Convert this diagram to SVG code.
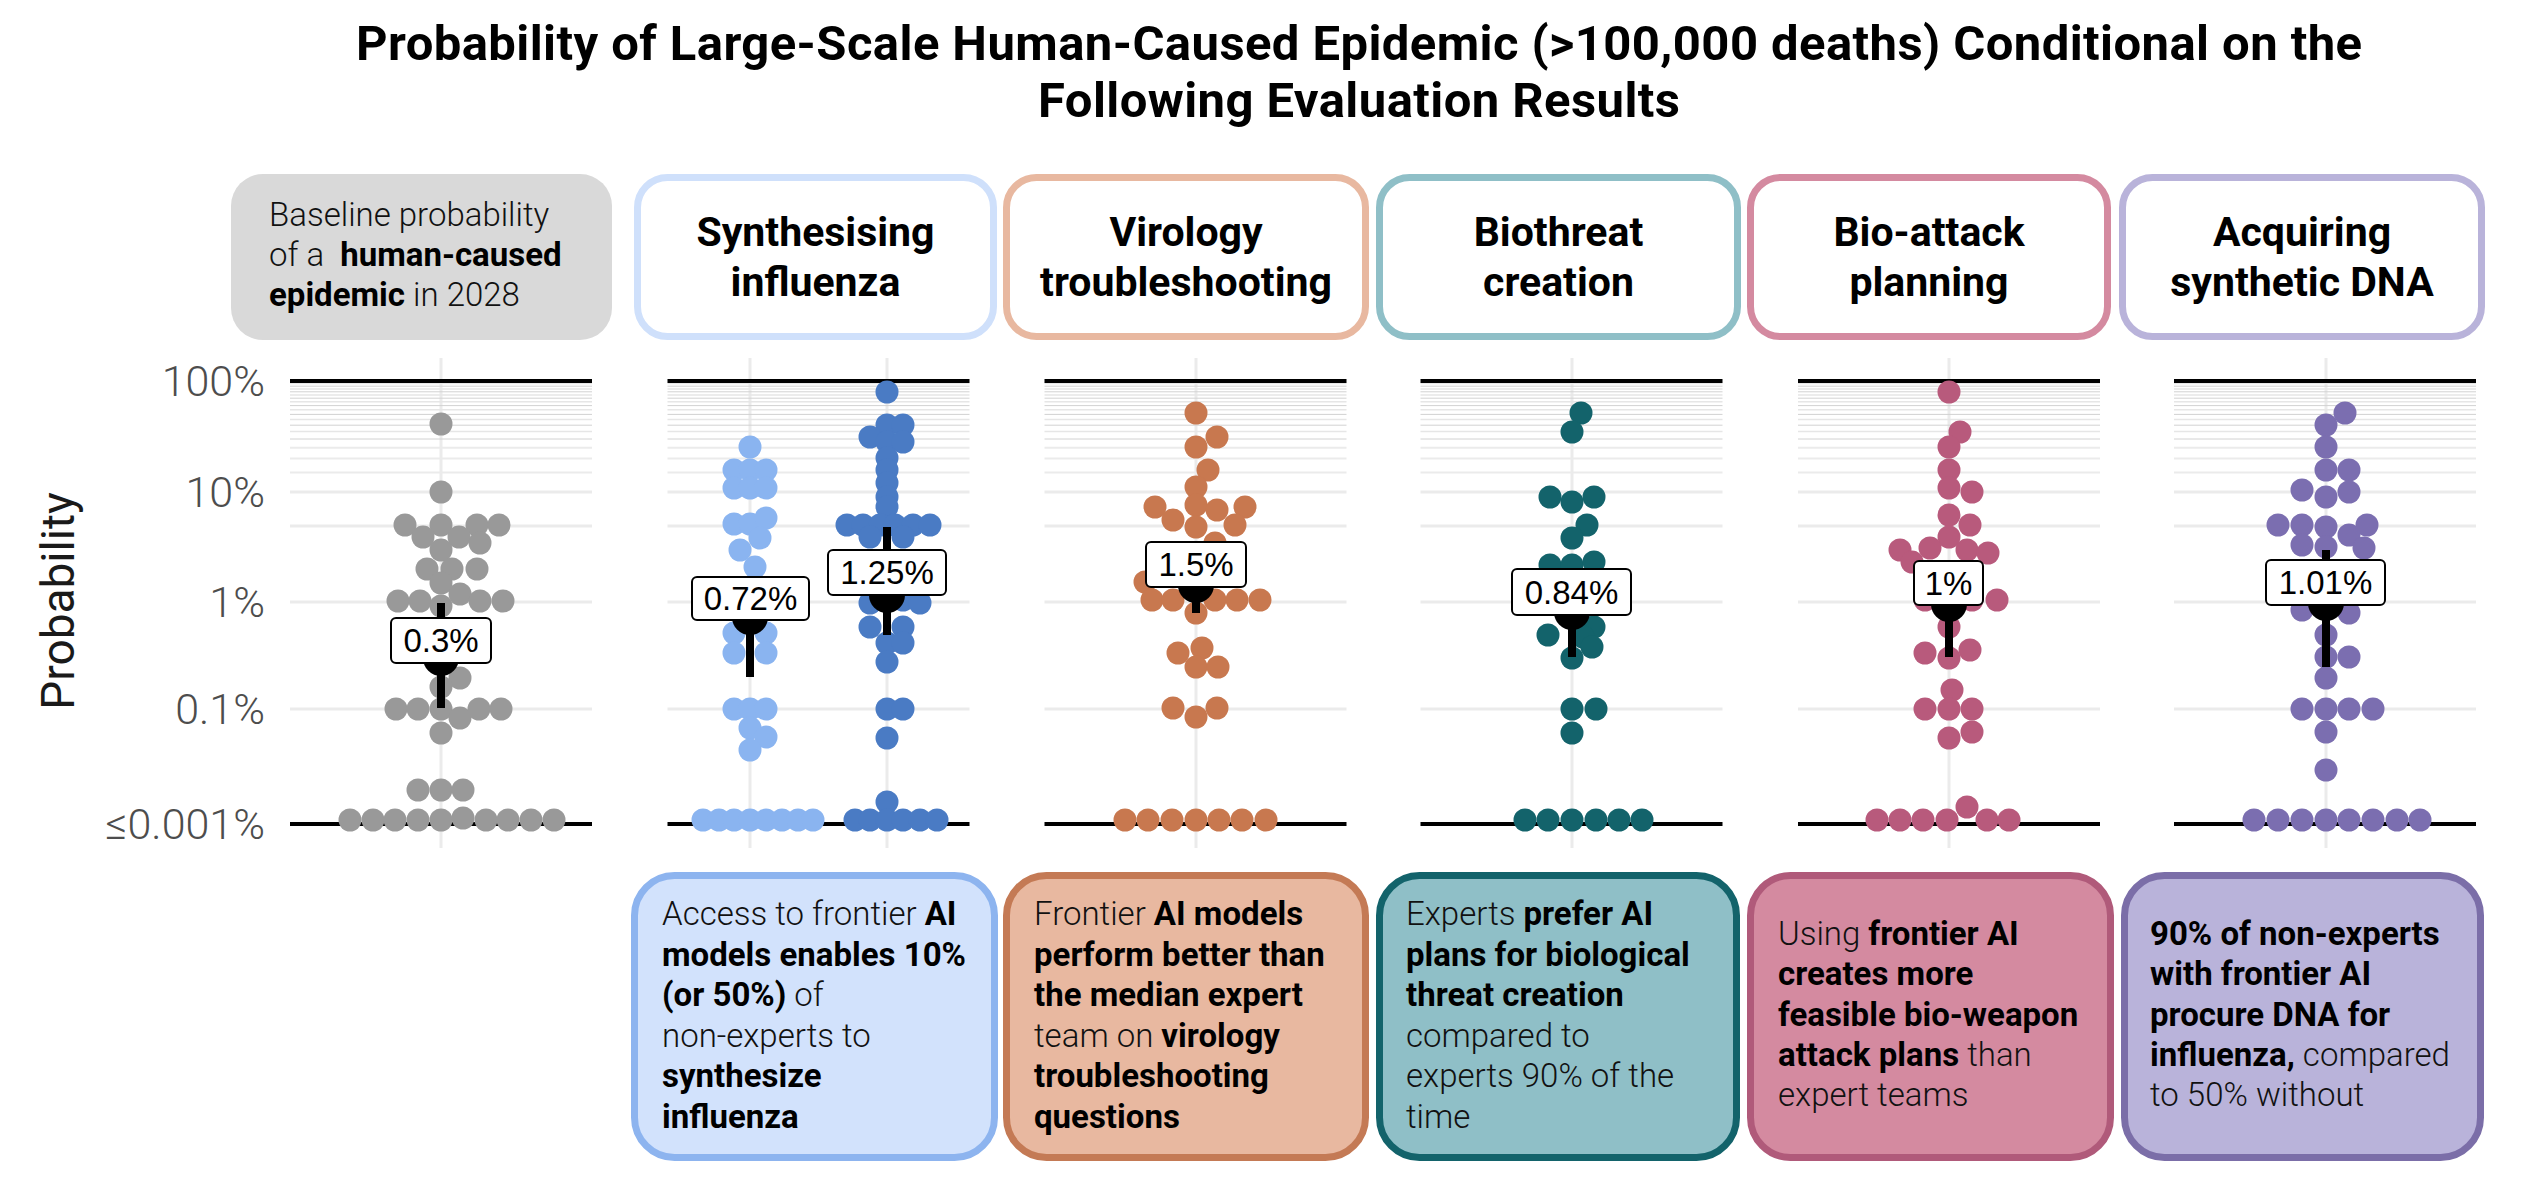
<svg xmlns="http://www.w3.org/2000/svg" width="2530" height="1181" viewBox="0 0 2530 1181">
<style>
.title{font-family:Roboto,"Liberation Sans",sans-serif;font-weight:700;font-size:49px;fill:#000;text-anchor:middle}
.htitle{font-family:Roboto,"Liberation Sans",sans-serif;font-weight:700;font-size:41px;fill:#000;text-anchor:middle}
.body{font-family:Roboto,"Liberation Sans",sans-serif;font-weight:300;font-size:33px;fill:#111}
.b{font-weight:700;fill:#000}
.tick{font-family:Roboto,"Liberation Sans",sans-serif;font-weight:300;font-size:43px;fill:#4d4d4d;text-anchor:end}
.ylab{font-family:Roboto,"Liberation Sans",sans-serif;font-weight:400;font-size:46px;fill:#1a1a1a;text-anchor:middle}
.lab{font-family:"Liberation Sans",Arial,sans-serif;font-size:33px;fill:#000;text-anchor:middle}
.labbox{fill:#fff;stroke:#000;stroke-width:2}
.hbox{fill:#fff;stroke-width:7}
.bbox{stroke-width:7}
.maj{stroke:#ebebeb;stroke-width:3}
.min{stroke:#e6e6e6;stroke-width:1.5}
.min2{stroke:#d2d2d2;stroke-width:1}
.blk{stroke:#000;stroke-width:4}
.vg{stroke:#ebebeb;stroke-width:3}
.rng{stroke:#000;stroke-width:8}
.med{fill:#000}
.g1{fill:#999999}
.c2a{fill:#8ab4f0}
.c2b{fill:#4a7bc4}
.c3{fill:#c8784f}
.c4{fill:#13636b}
.c5{fill:#b85a7c}
.c6{fill:#7b6eb0}
</style>
<defs>
<g id="grid">
<line class="min" x1="-151" x2="151" y1="383.5" y2="383.5"/>
<line class="min2" x1="-151" x2="151" y1="386.2" y2="386.2"/>
<line class="min" x1="-151" x2="151" y1="388.9" y2="388.9"/>
<line class="min2" x1="-151" x2="151" y1="391.8" y2="391.8"/>
<line class="min" x1="-151" x2="151" y1="394.9" y2="394.9"/>
<line class="min2" x1="-151" x2="151" y1="398.2" y2="398.2"/>
<line class="min" x1="-151" x2="151" y1="401.8" y2="401.8"/>
<line class="min2" x1="-151" x2="151" y1="405.6" y2="405.6"/>
<line class="min" x1="-151" x2="151" y1="409.8" y2="409.8"/>
<line class="min2" x1="-151" x2="151" y1="414.4" y2="414.4"/>
<line class="min" x1="-151" x2="151" y1="419.5" y2="419.5"/>
<line class="min2" x1="-151" x2="151" y1="425.2" y2="425.2"/>
<line class="min" x1="-151" x2="151" y1="431.6" y2="431.6"/>
<line class="min2" x1="-151" x2="151" y1="439" y2="439"/>
<line class="maj" x1="-151" x2="151" y1="447.8" y2="447.8" style="stroke-width:2"/>
<line class="maj" x1="-151" x2="151" y1="458.6" y2="458.6" style="stroke-width:2"/>
<line class="maj" x1="-151" x2="151" y1="472.5" y2="472.5" style="stroke-width:2"/>
<line class="maj" x1="-151" x2="151" y1="492" y2="492"/>
<line class="maj" x1="-151" x2="151" y1="526" y2="526"/>
<line class="maj" x1="-151" x2="151" y1="602" y2="602"/>
<line class="maj" x1="-151" x2="151" y1="709" y2="709"/>
<line class="blk" x1="-151" x2="151" y1="381" y2="381"/>
<line class="blk" x1="-151" x2="151" y1="824" y2="824"/>
</g>
</defs>

<g id="title">
<text class="title" x="1359" y="60" textLength="2006">Probability of Large-Scale Human-Caused Epidemic (&gt;100,000 deaths) Conditional on the</text>
<text class="title" x="1359" y="117" textLength="642">Following Evaluation Results</text>
</g>

<g id="header-baseline">
<rect x="231" y="174" width="381" height="166" rx="32" fill="#d9d9d9"/>
<text class="body" x="269" y="226">Baseline probability</text>
<text class="body" x="269" y="266">of a <tspan class="b" dx="8">human-caused</tspan></text>
<text class="body" x="269" y="306"><tspan class="b">epidemic</tspan> in 2028</text>
</g>
<g id="header-synth">
<rect class="hbox" x="637.5" y="177.5" width="356" height="159" rx="30" stroke="#cfe0fb"/>
<text class="htitle" x="815.5" y="246">Synthesising</text>
<text class="htitle" x="815.5" y="296">influenza</text>
</g>
<g id="header-virology">
<rect class="hbox" x="1006.5" y="177.5" width="359" height="159" rx="30" stroke="#e8b8a0"/>
<text class="htitle" x="1186" y="246">Virology</text>
<text class="htitle" x="1186" y="296">troubleshooting</text>
</g>
<g id="header-biothreat">
<rect class="hbox" x="1379.5" y="177.5" width="358" height="159" rx="30" stroke="#8fbfc7"/>
<text class="htitle" x="1558.5" y="246">Biothreat</text>
<text class="htitle" x="1558.5" y="296">creation</text>
</g>
<g id="header-bioattack">
<rect class="hbox" x="1750.5" y="177.5" width="357" height="159" rx="30" stroke="#d48aa0"/>
<text class="htitle" x="1929" y="246">Bio-attack</text>
<text class="htitle" x="1929" y="296">planning</text>
</g>
<g id="header-dna">
<rect class="hbox" x="2122.5" y="177.5" width="359" height="159" rx="30" stroke="#b9b3da"/>
<text class="htitle" x="2302" y="246">Acquiring</text>
<text class="htitle" x="2302" y="296">synthetic DNA</text>
</g>

<g id="y-axis">
<text class="ylab" transform="translate(74,601) rotate(-90)">Probability</text>
<text class="tick" x="265" y="396">100%</text>
<text class="tick" x="265" y="507">10%</text>
<text class="tick" x="265" y="617">1%</text>
<text class="tick" x="265" y="724">0.1%</text>
<text class="tick" x="265" y="839">≤0.001%</text>
</g>

<g id="panel-baseline">
<line class="vg" x1="441" x2="441" y1="358" y2="848"/>
<use href="#grid" x="441"/>
<g class="g1">
<circle cx="441" cy="424" r="11.5"/><circle cx="441" cy="492" r="11.5"/>
<circle cx="405" cy="525" r="11.5"/><circle cx="441" cy="525" r="11.5"/><circle cx="477" cy="525" r="11.5"/><circle cx="499" cy="525" r="11.5"/>
<circle cx="423" cy="537" r="11.5"/><circle cx="459" cy="537" r="11.5"/><circle cx="480" cy="543" r="11.5"/><circle cx="441" cy="550" r="11.5"/>
<circle cx="427" cy="569" r="11.5"/><circle cx="452" cy="569" r="11.5"/><circle cx="477" cy="569" r="11.5"/><circle cx="441" cy="583" r="11.5"/>
<circle cx="398" cy="601" r="11.5"/><circle cx="420" cy="601" r="11.5"/><circle cx="441" cy="606" r="11.5"/><circle cx="460" cy="594" r="11.5"/><circle cx="480" cy="601" r="11.5"/><circle cx="503" cy="601" r="11.5"/>
<circle cx="460" cy="678" r="11.5"/><circle cx="441" cy="687" r="11.5"/>
<circle cx="396" cy="709" r="11.5"/><circle cx="418" cy="709" r="11.5"/><circle cx="441" cy="709" r="11.5"/><circle cx="460" cy="718" r="11.5"/><circle cx="479" cy="709" r="11.5"/><circle cx="501" cy="709" r="11.5"/>
<circle cx="441" cy="733" r="11.5"/>
<circle cx="418" cy="790" r="11.5"/><circle cx="441" cy="790" r="11.5"/><circle cx="463" cy="790" r="11.5"/>
<circle cx="350" cy="820" r="11.5"/><circle cx="373" cy="820" r="11.5"/><circle cx="395" cy="820" r="11.5"/><circle cx="418" cy="820" r="11.5"/><circle cx="441" cy="820" r="11.5"/><circle cx="463" cy="818" r="11.5"/><circle cx="486" cy="820" r="11.5"/><circle cx="508" cy="820" r="11.5"/><circle cx="531" cy="820" r="11.5"/><circle cx="554" cy="820" r="11.5"/>
</g>
<line class="rng" x1="441" x2="441" y1="603" y2="708"/>
<circle class="med" cx="441" cy="658" r="18"/>
<rect class="labbox" x="391" y="618" width="100" height="45" rx="5"/>
<text class="lab" x="441" y="652">0.3%</text>
</g>

<g id="panel-synth">
<line class="vg" x1="750" x2="750" y1="358" y2="848"/>
<line class="vg" x1="887" x2="887" y1="358" y2="848"/>
<use href="#grid" x="818.5"/>
<g class="c2a">
<circle cx="750" cy="447" r="11.5"/>
<circle cx="734" cy="470" r="11.5"/><circle cx="750" cy="470" r="11.5"/><circle cx="766" cy="470" r="11.5"/>
<circle cx="734" cy="488" r="11.5"/><circle cx="750" cy="488" r="11.5"/><circle cx="766" cy="488" r="11.5"/>
<circle cx="734" cy="524" r="11.5"/><circle cx="750" cy="524" r="11.5"/><circle cx="766" cy="518" r="11.5"/>
<circle cx="760" cy="538" r="11.5"/><circle cx="740" cy="550" r="11.5"/><circle cx="755" cy="567" r="11.5"/>
<circle cx="750" cy="590" r="11.5"/>
<circle cx="734" cy="633" r="11.5"/><circle cx="766" cy="633" r="11.5"/><circle cx="734" cy="653" r="11.5"/><circle cx="766" cy="653" r="11.5"/>
<circle cx="734" cy="709" r="11.5"/><circle cx="750" cy="709" r="11.5"/><circle cx="766" cy="709" r="11.5"/>
<circle cx="750" cy="728" r="11.5"/><circle cx="766" cy="737" r="11.5"/><circle cx="750" cy="750" r="11.5"/>
<circle cx="703" cy="820" r="11.5"/><circle cx="719" cy="820" r="11.5"/><circle cx="734" cy="820" r="11.5"/><circle cx="750" cy="820" r="11.5"/><circle cx="766" cy="820" r="11.5"/><circle cx="782" cy="820" r="11.5"/><circle cx="798" cy="820" r="11.5"/><circle cx="813" cy="820" r="11.5"/>
</g>
<g class="c2b">
<circle cx="887" cy="392" r="11.5"/>
<circle cx="887" cy="425" r="11.5"/><circle cx="903" cy="425" r="11.5"/><circle cx="870" cy="437" r="11.5"/><circle cx="887" cy="442" r="11.5"/><circle cx="903" cy="442" r="11.5"/>
<circle cx="887" cy="458" r="11.5"/><circle cx="887" cy="470" r="11.5"/><circle cx="887" cy="483" r="11.5"/><circle cx="887" cy="497" r="11.5"/><circle cx="887" cy="507" r="11.5"/>
<circle cx="847" cy="525" r="11.5"/><circle cx="863" cy="525" r="11.5"/><circle cx="880" cy="525" r="11.5"/><circle cx="895" cy="525" r="11.5"/><circle cx="913" cy="525" r="11.5"/><circle cx="930" cy="525" r="11.5"/>
<circle cx="870" cy="537" r="11.5"/><circle cx="903" cy="537" r="11.5"/>
<circle cx="870" cy="603" r="11.5"/><circle cx="903" cy="600" r="11.5"/><circle cx="920" cy="603" r="11.5"/>
<circle cx="870" cy="627" r="11.5"/><circle cx="903" cy="627" r="11.5"/>
<circle cx="887" cy="643" r="11.5"/><circle cx="903" cy="643" r="11.5"/><circle cx="887" cy="662" r="11.5"/>
<circle cx="887" cy="709" r="11.5"/><circle cx="903" cy="709" r="11.5"/>
<circle cx="887" cy="738" r="11.5"/>
<circle cx="887" cy="802" r="11.5"/>
<circle cx="855" cy="820" r="11.5"/><circle cx="870" cy="820" r="11.5"/><circle cx="887" cy="820" r="11.5"/><circle cx="903" cy="820" r="11.5"/><circle cx="920" cy="820" r="11.5"/><circle cx="937" cy="820" r="11.5"/>
</g>
<line class="rng" x1="750" x2="750" y1="595" y2="677"/>
<circle class="med" cx="750" cy="617" r="18"/>
<rect class="labbox" x="692" y="577" width="117" height="43" rx="5"/>
<text class="lab" x="750.5" y="610">0.72%</text>
<line class="rng" x1="887" x2="887" y1="527" y2="635"/>
<circle class="med" cx="887" cy="595" r="18"/>
<rect class="labbox" x="828" y="550" width="118" height="45" rx="5"/>
<text class="lab" x="887" y="584">1.25%</text>
</g>

<g id="panel-virology">
<line class="vg" x1="1196" x2="1196" y1="358" y2="848"/>
<use href="#grid" x="1195.5"/>
<g class="c3">
<circle cx="1196" cy="413" r="11.5"/>
<circle cx="1217" cy="437" r="11.5"/><circle cx="1196" cy="447" r="11.5"/>
<circle cx="1208" cy="470" r="11.5"/><circle cx="1196" cy="487" r="11.5"/>
<circle cx="1155" cy="507" r="11.5"/><circle cx="1196" cy="505" r="11.5"/><circle cx="1217" cy="510" r="11.5"/><circle cx="1245" cy="507" r="11.5"/>
<circle cx="1173" cy="520" r="11.5"/><circle cx="1196" cy="527" r="11.5"/><circle cx="1235" cy="525" r="11.5"/>
<circle cx="1215" cy="543" r="11.5"/><circle cx="1235" cy="557" r="11.5"/>
<circle cx="1145" cy="582" r="11.5"/>
<circle cx="1152" cy="600" r="11.5"/><circle cx="1173" cy="600" r="11.5"/><circle cx="1215" cy="600" r="11.5"/><circle cx="1237" cy="600" r="11.5"/><circle cx="1260" cy="600" r="11.5"/>
<circle cx="1196" cy="613" r="11.5"/>
<circle cx="1178" cy="653" r="11.5"/><circle cx="1202" cy="648" r="11.5"/><circle cx="1196" cy="667" r="11.5"/><circle cx="1218" cy="667" r="11.5"/>
<circle cx="1173" cy="708" r="11.5"/><circle cx="1196" cy="717" r="11.5"/><circle cx="1217" cy="708" r="11.5"/>
<circle cx="1125" cy="820" r="11.5"/><circle cx="1148" cy="820" r="11.5"/><circle cx="1172" cy="820" r="11.5"/><circle cx="1196" cy="820" r="11.5"/><circle cx="1219" cy="820" r="11.5"/><circle cx="1242" cy="820" r="11.5"/><circle cx="1266" cy="820" r="11.5"/>
</g>
<line class="rng" x1="1196" x2="1196" y1="570" y2="613"/>
<circle class="med" cx="1196" cy="585" r="18"/>
<rect class="labbox" x="1146" y="542" width="100" height="45" rx="5"/>
<text class="lab" x="1196" y="576">1.5%</text>
</g>

<g id="panel-biothreat">
<line class="vg" x1="1572" x2="1572" y1="358" y2="848"/>
<use href="#grid" x="1571.5"/>
<g class="c4">
<circle cx="1581" cy="413" r="11.5"/><circle cx="1572" cy="432" r="11.5"/>
<circle cx="1550" cy="497" r="11.5"/><circle cx="1572" cy="502" r="11.5"/><circle cx="1594" cy="497" r="11.5"/>
<circle cx="1587" cy="525" r="11.5"/><circle cx="1572" cy="538" r="11.5"/>
<circle cx="1550" cy="565" r="11.5"/><circle cx="1572" cy="565" r="11.5"/><circle cx="1594" cy="562" r="11.5"/>
<circle cx="1594" cy="627" r="11.5"/><circle cx="1548" cy="635" r="11.5"/><circle cx="1583" cy="637" r="11.5"/><circle cx="1592" cy="647" r="11.5"/><circle cx="1572" cy="658" r="11.5"/>
<circle cx="1572" cy="709" r="11.5"/><circle cx="1596" cy="709" r="11.5"/><circle cx="1572" cy="733" r="11.5"/>
<circle cx="1525" cy="820" r="11.5"/><circle cx="1548" cy="820" r="11.5"/><circle cx="1572" cy="820" r="11.5"/><circle cx="1596" cy="820" r="11.5"/><circle cx="1619" cy="820" r="11.5"/><circle cx="1642" cy="820" r="11.5"/>
</g>
<line class="rng" x1="1572" x2="1572" y1="590" y2="657"/>
<circle class="med" cx="1572" cy="612" r="18"/>
<rect class="labbox" x="1512" y="569" width="119" height="46" rx="5"/>
<text class="lab" x="1571.5" y="604">0.84%</text>
</g>

<g id="panel-bioattack">
<line class="vg" x1="1949" x2="1949" y1="358" y2="848"/>
<use href="#grid" x="1949"/>
<g class="c5">
<circle cx="1949" cy="392" r="11.5"/>
<circle cx="1960" cy="432" r="11.5"/><circle cx="1949" cy="447" r="11.5"/>
<circle cx="1949" cy="470" r="11.5"/><circle cx="1949" cy="488" r="11.5"/><circle cx="1972" cy="492" r="11.5"/>
<circle cx="1949" cy="515" r="11.5"/><circle cx="1970" cy="525" r="11.5"/><circle cx="1949" cy="537" r="11.5"/>
<circle cx="1900" cy="550" r="11.5"/><circle cx="1930" cy="548" r="11.5"/><circle cx="1967" cy="550" r="11.5"/><circle cx="1988" cy="553" r="11.5"/><circle cx="1912" cy="562" r="11.5"/>
<circle cx="1925" cy="600" r="11.5"/><circle cx="1972" cy="600" r="11.5"/><circle cx="1997" cy="600" r="11.5"/>
<circle cx="1949" cy="627" r="11.5"/>
<circle cx="1925" cy="653" r="11.5"/><circle cx="1949" cy="658" r="11.5"/><circle cx="1970" cy="650" r="11.5"/>
<circle cx="1952" cy="690" r="11.5"/>
<circle cx="1925" cy="709" r="11.5"/><circle cx="1949" cy="709" r="11.5"/><circle cx="1972" cy="709" r="11.5"/>
<circle cx="1949" cy="738" r="11.5"/><circle cx="1972" cy="732" r="11.5"/>
<circle cx="1877" cy="820" r="11.5"/><circle cx="1900" cy="820" r="11.5"/><circle cx="1923" cy="820" r="11.5"/><circle cx="1947" cy="820" r="11.5"/><circle cx="1967" cy="807" r="11.5"/><circle cx="1987" cy="820" r="11.5"/><circle cx="2009" cy="820" r="11.5"/>
</g>
<line class="rng" x1="1949" x2="1949" y1="590" y2="657"/>
<circle class="med" cx="1949" cy="604" r="18"/>
<rect class="labbox" x="1914" y="561" width="69" height="44" rx="5"/>
<text class="lab" x="1948.5" y="595">1%</text>
</g>

<g id="panel-dna">
<line class="vg" x1="2326" x2="2326" y1="358" y2="848"/>
<use href="#grid" x="2325"/>
<g class="c6">
<circle cx="2345" cy="413" r="11.5"/><circle cx="2326" cy="425" r="11.5"/>
<circle cx="2326" cy="447" r="11.5"/>
<circle cx="2326" cy="470" r="11.5"/><circle cx="2349" cy="470" r="11.5"/>
<circle cx="2302" cy="490" r="11.5"/><circle cx="2326" cy="497" r="11.5"/><circle cx="2349" cy="492" r="11.5"/>
<circle cx="2278" cy="525" r="11.5"/><circle cx="2302" cy="525" r="11.5"/><circle cx="2326" cy="527" r="11.5"/><circle cx="2349" cy="535" r="11.5"/><circle cx="2367" cy="525" r="11.5"/>
<circle cx="2302" cy="545" r="11.5"/><circle cx="2326" cy="547" r="11.5"/><circle cx="2364" cy="548" r="11.5"/>
<circle cx="2302" cy="610" r="11.5"/><circle cx="2349" cy="613" r="11.5"/>
<circle cx="2326" cy="635" r="11.5"/>
<circle cx="2326" cy="657" r="11.5"/><circle cx="2349" cy="657" r="11.5"/>
<circle cx="2326" cy="678" r="11.5"/>
<circle cx="2302" cy="709" r="11.5"/><circle cx="2326" cy="709" r="11.5"/><circle cx="2349" cy="709" r="11.5"/><circle cx="2373" cy="709" r="11.5"/>
<circle cx="2326" cy="732" r="11.5"/>
<circle cx="2326" cy="770" r="11.5"/>
<circle cx="2254" cy="820" r="11.5"/><circle cx="2278" cy="820" r="11.5"/><circle cx="2302" cy="820" r="11.5"/><circle cx="2326" cy="820" r="11.5"/><circle cx="2349" cy="820" r="11.5"/><circle cx="2373" cy="820" r="11.5"/><circle cx="2397" cy="820" r="11.5"/><circle cx="2420" cy="820" r="11.5"/>
</g>
<line class="rng" x1="2326" x2="2326" y1="550" y2="667"/>
<circle class="med" cx="2326" cy="603" r="18"/>
<rect class="labbox" x="2266" y="560" width="119" height="45" rx="5"/>
<text class="lab" x="2325.5" y="594">1.01%</text>
</g>

<g id="desc-synth">
<rect class="bbox" x="634.5" y="875.5" width="360" height="282" rx="40" fill="#d2e2fc" stroke="#8db4ef"/>
<text class="body" x="662" y="925">Access to frontier <tspan class="b">AI</tspan></text>
<text class="body" x="662" y="966"><tspan class="b">models enables 10%</tspan></text>
<text class="body" x="662" y="1006"><tspan class="b">(or 50%)</tspan> of</text>
<text class="body" x="662" y="1047">non-experts to</text>
<text class="body" x="662" y="1087"><tspan class="b">synthesize</tspan></text>
<text class="body" x="662" y="1128"><tspan class="b">influenza</tspan></text>
</g>
<g id="desc-virology">
<rect class="bbox" x="1006.5" y="875.5" width="359" height="282" rx="40" fill="#e8b8a0" stroke="#c47a55"/>
<text class="body" x="1034" y="925">Frontier <tspan class="b">AI models</tspan></text>
<text class="body" x="1034" y="966"><tspan class="b">perform better than</tspan></text>
<text class="body" x="1034" y="1006"><tspan class="b">the median expert</tspan></text>
<text class="body" x="1034" y="1047">team on <tspan class="b">virology</tspan></text>
<text class="body" x="1034" y="1087"><tspan class="b">troubleshooting</tspan></text>
<text class="body" x="1034" y="1128"><tspan class="b">questions</tspan></text>
</g>
<g id="desc-biothreat">
<rect class="bbox" x="1379.5" y="875.5" width="357" height="282" rx="40" fill="#8fbfc7" stroke="#13636b"/>
<text class="body" x="1406" y="925">Experts <tspan class="b">prefer AI</tspan></text>
<text class="body" x="1406" y="966"><tspan class="b">plans for biological</tspan></text>
<text class="body" x="1406" y="1006"><tspan class="b">threat creation</tspan></text>
<text class="body" x="1406" y="1047">compared to</text>
<text class="body" x="1406" y="1087">experts 90% of the</text>
<text class="body" x="1406" y="1128">time</text>
</g>
<g id="desc-bioattack">
<rect class="bbox" x="1750.5" y="875.5" width="360" height="282" rx="40" fill="#d48aa0" stroke="#b05a7a"/>
<text class="body" x="1778" y="945">Using <tspan class="b">frontier AI</tspan></text>
<text class="body" x="1778" y="985"><tspan class="b">creates more</tspan></text>
<text class="body" x="1778" y="1026"><tspan class="b">feasible bio-weapon</tspan></text>
<text class="body" x="1778" y="1066"><tspan class="b">attack plans</tspan> than</text>
<text class="body" x="1778" y="1106">expert teams</text>
</g>
<g id="desc-dna">
<rect class="bbox" x="2124.5" y="875.5" width="356" height="282" rx="40" fill="#b9b3da" stroke="#7b6ea8"/>
<text class="body" x="2150" y="945"><tspan class="b">90% of non-experts</tspan></text>
<text class="body" x="2150" y="985"><tspan class="b">with frontier AI</tspan></text>
<text class="body" x="2150" y="1026"><tspan class="b">procure DNA for</tspan></text>
<text class="body" x="2150" y="1066"><tspan class="b">influenza,</tspan> compared</text>
<text class="body" x="2150" y="1106">to 50% without</text>
</g>
<g id="connectors"/>
</svg>
